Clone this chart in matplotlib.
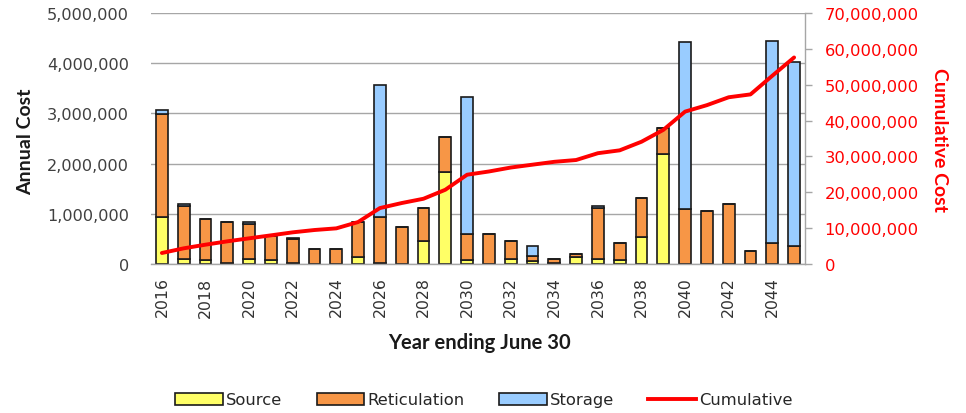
import matplotlib
matplotlib.use("Agg")
import matplotlib.pyplot as plt
from matplotlib.ticker import FuncFormatter, MultipleLocator
from matplotlib.patches import Patch
from matplotlib.lines import Line2D
import numpy as np

years = list(range(2016, 2046))

source = [930_000, 90_000, 70_000, 10_000, 100_000, 70_000, 10_000, 0, 0, 130_000,
          10_000, 0, 450_000, 1_840_000, 70_000, 0, 90_000, 50_000, 20_000, 130_000,
          90_000, 70_000, 540_000, 2_190_000, 0, 0, 0, 0, 0, 0]

reticulation = [2_060_000, 1_070_000, 830_000, 830_000, 700_000, 480_000, 480_000, 290_000, 290_000, 710_000,
                920_000, 730_000, 670_000, 680_000, 530_000, 600_000, 360_000, 100_000, 80_000, 60_000,
                1_030_000, 350_000, 780_000, 510_000, 1_090_000, 1_060_000, 1_190_000, 250_000, 410_000, 350_000]

storage = [70_000, 40_000, 0, 0, 40_000, 0, 30_000, 0, 0, 0,
           2_640_000, 0, 0, 0, 2_720_000, 0, 0, 200_000, 0, 0,
           40_000, 0, 0, 0, 3_330_000, 0, 0, 0, 4_040_000, 3_680_000]

cumulative = [3_070_000, 4_370_000, 5_390_000, 6_320_000, 7_160_000, 7_990_000, 8_830_000, 9_480_000,
              9_940_000, 11_700_000, 15_600_000, 17_000_000, 18_200_000, 20_700_000, 24_900_000,
              25_800_000, 26_900_000, 27_700_000, 28_500_000, 29_000_000, 30_900_000, 31_700_000,
              34_100_000, 37_400_000, 42_500_000, 44_300_000, 46_500_000, 47_300_000, 52_500_000,
              57_600_000]

series_labels = ["Source", "Reticulation", "Storage", "Cumulative"]

c_source = "#FFFF66"
c_ret = "#F79646"
c_storage = "#99CCFF"
c_cum = "#FF0000"
grid_c = "#A6A6A6"
edge_c = "#1a1a1a"

plt.rcParams["font.family"] = ["DejaVu Sans"]

fig = plt.figure(figsize=(9.66, 4.14), dpi=100)
ax = fig.add_axes([151 / 966, 1 - 265 / 414, 654 / 966, 251 / 414])

x = np.arange(len(years))
w = 0.55
src = np.array(source)
ret = np.array(reticulation)
sto = np.array(storage)
ax.bar(x, src, w, color=c_source, edgecolor=edge_c, linewidth=1.2, zorder=2)
ax.bar(x, ret, w, bottom=src, color=c_ret, edgecolor=edge_c, linewidth=1.2, zorder=2)
ax.bar(x, sto, w, bottom=src + ret, color=c_storage, edgecolor=edge_c, linewidth=1.2, zorder=2)

ax.set_xlim(-0.5, len(years) - 0.5)
ax.set_ylim(0, 5_000_000)
ax.yaxis.set_major_locator(MultipleLocator(1_000_000))
ax.yaxis.set_major_formatter(FuncFormatter(lambda v, p: f"{int(v):,}"))
ax.grid(axis="y", color=grid_c, linewidth=1.0, zorder=0)
ax.set_axisbelow(True)
for s in ["left", "top", "right"]:
    ax.spines[s].set_visible(False)
ax.spines["bottom"].set_color(grid_c)
ax.spines["bottom"].set_linewidth(1.0)

ax.set_xticks(x[::2])
ax.set_xticklabels([str(y) for y in years[::2]], rotation=90, fontsize=11.3, color="#333333")
ax.tick_params(axis="x", length=0, pad=9)
ax.tick_params(axis="y", length=0, pad=16, labelsize=11.6, labelcolor="#404040")

ax2 = ax.twinx()
ax2.plot(x, cumulative, color=c_cum, linewidth=2.8, solid_capstyle="round", zorder=3)
ax2.set_ylim(0, 70_000_000)
ax2.yaxis.set_major_locator(MultipleLocator(10_000_000))
ax2.yaxis.set_major_formatter(FuncFormatter(lambda v, p: f"{int(v):,}"))
for s in ["left", "top", "bottom"]:
    ax2.spines[s].set_visible(False)
ax2.spines["right"].set_color(grid_c)
ax2.spines["right"].set_linewidth(1.0)
ax2.tick_params(axis="y", direction="out", length=5, width=1.0, color=grid_c,
                pad=9, labelsize=11.8, labelcolor=c_cum)

title_font = ["Lato", "DejaVu Sans"]
fig.text(26 / 966, 1 - 142 / 414, "Annual Cost", rotation=90, ha="center", va="center",
         fontsize=14, fontweight="bold", family=title_font, color="#1a1a1a")
fig.text(940 / 966, 1 - 140 / 414, "Cumulative Cost", rotation=270, ha="center", va="center",
         fontsize=14, fontweight="bold", family=title_font, color=c_cum)
fig.text(479 / 966, 1 - 343 / 414, "Year ending June 30", ha="center", va="center",
         fontsize=14.5, fontweight="bold", family=title_font, color="#1a1a1a")

handles = [
    Patch(facecolor=c_source, edgecolor=edge_c, linewidth=1.2),
    Patch(facecolor=c_ret, edgecolor=edge_c, linewidth=1.2),
    Patch(facecolor=c_storage, edgecolor=edge_c, linewidth=1.2),
    Line2D([0], [0], color=c_cum, linewidth=2.8),
]
fig.legend(handles, series_labels, loc="center", bbox_to_anchor=(484 / 966, 1 - 401 / 414),
           ncol=4, frameon=False, fontsize=11.8, handlelength=2.9, handleheight=0.7,
           handletextpad=0.2, columnspacing=2.1, labelcolor="#262626")

fig.savefig("out.png", dpi=100)
